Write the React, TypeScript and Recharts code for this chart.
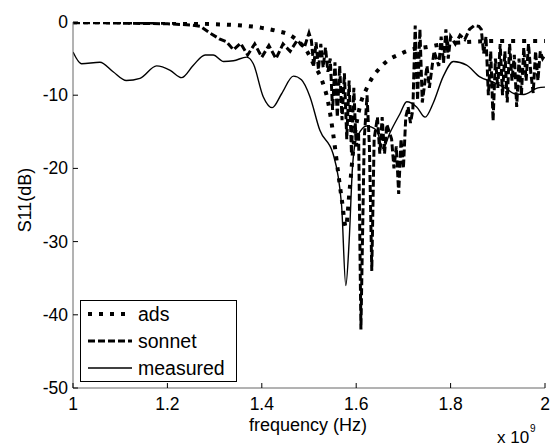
import React from 'react'
import { LineChart, Line, XAxis, YAxis } from 'recharts'

// axis ticks
const X_TICKS = [1, 1.2, 1.4, 1.6, 1.8, 2]
const Y_TICKS = [0, -10, -20, -30, -40, -50]

// ads simulation (frequency x1e9 Hz, S11 dB)
const ADS_F = [1.0, 1.1, 1.2, 1.25, 1.3, 1.35, 1.4, 1.43, 1.46, 1.48, 1.494, 1.51, 1.527, 1.541, 1.551, 1.562, 1.57, 1.578, 1.586, 1.596, 1.608, 1.622, 1.635, 1.65, 1.668, 1.689, 1.71, 1.752, 1.777, 1.82, 1.845, 1.9, 1.95, 2.0]
const ADS_DB = [-0.05, -0.05, -0.1, -0.2, -0.3, -0.45, -0.8, -1.2, -1.8, -2.8, -3.8, -5.8, -7.9, -11.1, -15.2, -20.7, -24.5, -28, -23, -16, -11.5, -9.1, -7.5, -6.3, -5.2, -4.5, -3.9, -3.4, -3.1, -2.8, -2.7, -2.6, -2.6, -2.6]

// sonnet simulation
const SONNET_F = [1.0, 1.05, 1.1, 1.15, 1.2, 1.25, 1.27, 1.29, 1.31, 1.325, 1.34, 1.355, 1.37, 1.385, 1.4, 1.415, 1.43, 1.445, 1.46, 1.475, 1.49, 1.5, 1.505, 1.51, 1.515, 1.52, 1.525, 1.53, 1.535, 1.54, 1.545, 1.55, 1.555, 1.56, 1.565, 1.57, 1.575, 1.58, 1.585, 1.59, 1.595, 1.6, 1.605, 1.61, 1.617, 1.623, 1.628, 1.633, 1.638, 1.645, 1.65, 1.655, 1.66, 1.665, 1.675, 1.68, 1.685, 1.69, 1.695, 1.7, 1.705, 1.71, 1.715, 1.72, 1.725, 1.73, 1.735, 1.74, 1.75, 1.755, 1.765, 1.775, 1.78, 1.785, 1.79, 1.795, 1.8, 1.81, 1.82, 1.83, 1.84, 1.85, 1.86, 1.865, 1.87, 1.875, 1.88, 1.885, 1.89, 1.895, 1.9, 1.905, 1.91, 1.915, 1.92, 1.925, 1.93, 1.935, 1.94, 1.945, 1.95, 1.955, 1.96, 1.965, 1.97, 1.975, 1.98, 1.985, 1.99, 1.995, 2.0]
const SONNET_DB = [-0.1, -0.1, -0.15, -0.2, -0.25, -0.4, -0.6, -1.5, -2.3, -2.7, -3.8, -2.9, -4.5, -3.0, -4.8, -3.2, -5.0, -3.0, -4.0, -2.5, -3.5, -1.5, -2.5, -6.0, -2.8, -6.5, -3.0, -6.2, -3.5, -6.8, -5.0, -12.0, -5.5, -13.0, -6.0, -13.4, -7.0, -16.0, -8.0, -18.0, -9.0, -17.0, -15.0, -42.0, -16.0, -10.0, -17.0, -34.0, -16.0, -13.0, -18.0, -13.0, -18.0, -14.0, -16.0, -20.0, -17.0, -23.5, -16.0, -20.0, -13.0, -11.6, -13.8, -12.0, -0.5, -10.7, -1.0, -11.0, -6.0, -9.0, -4.0, -6.0, -2.0, -5.6, -1.0, -5.0, -2.0, -3.0, -1.8, -2.4, -1.0, -0.5, -0.6, -1.0, -4.3, -2.0, -10.0, -4.0, -13.5, -5.0, -9.0, -3.0, -10.0, -4.0, -11.0, -3.0, -8.0, -4.5, -11.6, -5.0, -10.0, -3.5, -8.0, -3.0, -7.0, -9.7, -4.0, -8.0, -4.0, -5.0, -4.5]

// measured
const MEAS_F = [1.0, 1.018, 1.057, 1.085, 1.113, 1.142, 1.177, 1.206, 1.23, 1.255, 1.28, 1.297, 1.319, 1.34, 1.368, 1.382, 1.403, 1.422, 1.442, 1.467, 1.484, 1.502, 1.523, 1.551, 1.569, 1.578, 1.585, 1.592, 1.598, 1.61, 1.622, 1.643, 1.657, 1.671, 1.693, 1.707, 1.728, 1.746, 1.763, 1.784, 1.806, 1.834, 1.862, 1.89, 1.918, 1.935, 1.955, 1.985, 2.0]
const MEAS_DB = [-4.1, -5.7, -5.5, -6.8, -8.0, -7.7, -6.0, -6.6, -7.6, -5.9, -4.5, -4.5, -5.4, -5.3, -4.8, -5.7, -10.2, -11.7, -9.8, -7.4, -7.9, -10.2, -14.8, -18.0, -25.0, -36.0, -30.0, -20.0, -16.5, -14.8, -14.2, -14.8, -17.3, -15.2, -12.5, -10.9, -11.6, -13.0, -11.1, -7.5, -5.4, -5.9, -7.5, -8.2, -9.1, -9.8, -9.9, -9.0, -8.9]

const toPoints = (f: number[], db: number[]) => f.map((x, i) => ({ f: x, db: db[i] }))

const FONT = '"Liberation Sans", Arial, sans-serif'

function XTick({ x, y, payload }: any) {
  return (
    <g>
      <line x1={x} y1={y} x2={x} y2={y - 5} stroke="#000" strokeWidth={1} />
      <text x={x} y={y + 22} textAnchor="middle" fontSize={17.5} fontFamily={FONT} fill="#000">
        {payload.value}
      </text>
    </g>
  )
}

function YTick({ x, y, payload }: any) {
  return (
    <g>
      <line x1={x} y1={y} x2={x + 5} y2={y} stroke="#000" strokeWidth={1} />
      <text x={x - 5} y={y + 6} textAnchor="end" fontSize={17.5} fontFamily={FONT} fill="#000">
        {payload.value}
      </text>
    </g>
  )
}

const XTitle = () => (
  <g fontFamily={FONT} fill="#000">
    <text x={308} y={431} textAnchor="middle" fontSize={18}>frequency (Hz)</text>
    <text x={497} y={443} fontSize={17}>x 10</text>
    <text x={530} y={432} fontSize={10}>9</text>
  </g>
)

const YTitle = () => (
  <text
    x={25}
    y={200}
    transform="rotate(-90 25 200)"
    textAnchor="middle"
    dominantBaseline="central"
    fontSize={18}
    fontFamily={FONT}
    fill="#000"
  >
    S11(dB)
  </text>
)

const LEGEND = [
  { name: 'ads', width: 4, dash: '4 7' },
  { name: 'sonnet', width: 3, dash: '7 3' },
  { name: 'measured', width: 1.4, dash: undefined },
]

export default function App() {
  return (
    <div style={{ position: 'absolute', left: 0, top: 0, width: 552, height: 447, background: '#fff' }}>
      <LineChart width={552} height={447} margin={{ top: 22, right: 7, left: 0, bottom: 0 }}>
        <XAxis
          type="number"
          dataKey="f"
          domain={[1, 2]}
          ticks={X_TICKS}
          interval={0}
          height={59}
          tickSize={0}
          tickMargin={0}
          tick={<XTick />}
          axisLine={{ stroke: '#666' }}
          allowDataOverflow
          label={<XTitle />}
        />
        <YAxis
          type="number"
          domain={[-50, 0]}
          ticks={Y_TICKS}
          interval={0}
          width={73}
          tickSize={0}
          tickMargin={0}
          tick={<YTick />}
          axisLine={{ stroke: '#666' }}
          allowDataOverflow
          label={<YTitle />}
        />
        <Line
          data={toPoints(MEAS_F, MEAS_DB)}
          dataKey="db"
          type="monotone"
          stroke="#000"
          strokeWidth={1.4}
          dot={false}
          isAnimationActive={false}
        />
        <Line
          data={toPoints(SONNET_F, SONNET_DB)}
          dataKey="db"
          type="linear"
          stroke="#000"
          strokeWidth={3}
          strokeDasharray="7 3"
          dot={false}
          isAnimationActive={false}
        />
        <Line
          data={toPoints(ADS_F, ADS_DB)}
          dataKey="db"
          type="monotone"
          stroke="#000"
          strokeWidth={4}
          strokeDasharray="4 7"
          dot={false}
          isAnimationActive={false}
        />
      </LineChart>
      <svg
        width={158}
        height={83}
        style={{ position: 'absolute', left: 80, top: 300 }}
      >
        <rect x={0.5} y={0.5} width={156} height={81} fill="#fff" stroke="#000" strokeWidth={1} />
        {LEGEND.map((s, i) => {
          const cy = 14 + i * 27
          return (
            <g key={s.name}>
              <line x1={8} y1={cy} x2={52} y2={cy} stroke="#000" strokeWidth={s.width} strokeDasharray={s.dash} />
              <text x={58} y={cy + 7} fontSize={19.5} fontFamily={FONT} fill="#000">{s.name}</text>
            </g>
          )
        })}
      </svg>
    </div>
  )
}
